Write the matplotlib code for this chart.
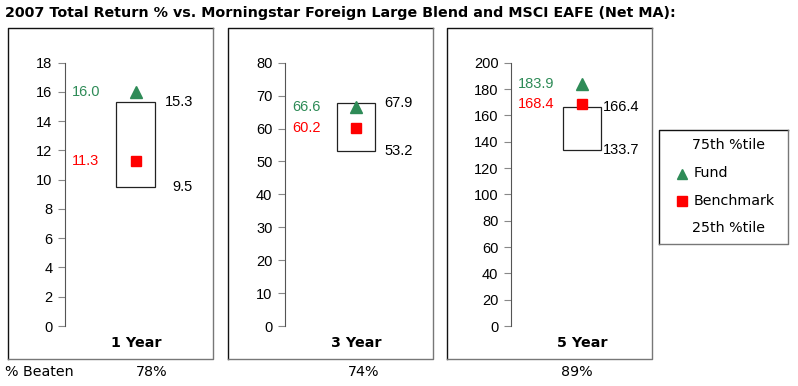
import matplotlib
matplotlib.use("Agg")
import matplotlib.pyplot as plt
from matplotlib.patches import Rectangle

# ---- data ----
periods = ["1 Year", "3 Year", "5 Year"]
fund = [16.0, 66.6, 183.9]
benchmark = [11.3, 60.2, 168.4]
pct75 = [15.3, 67.9, 166.4]
pct25 = [9.5, 53.2, 133.7]
beaten = ["78%", "74%", "89%"]
ymax = [18, 80, 200]
ystep = [2, 10, 20]
title = "2007 Total Return % vs. Morningstar Foreign Large Blend and MSCI EAFE (Net MA):"

GREEN = "#2e8b57"
RED = "#ff0000"

W, H = 798, 386
fig = plt.figure(figsize=(W / 100, H / 100), dpi=100)

# overlay in pixel coordinates
ov = fig.add_axes([0, 0, 1, 1])
ov.set_xlim(0, W)
ov.set_ylim(H, 0)
ov.axis("off")

ov.text(5, 13, title, fontsize=10.3, fontweight="bold", family="DejaVu Sans",
        va="center", ha="left")

panel_left = [8, 228, 447]
panel_w = 205
axis_x = [65, 285, 511]
beaten_x = [152, 364, 577]


def frame(x0, y0, w, h):
    ov.plot([x0, x0, x0 + w], [y0 + h, y0, y0], color="#111111", lw=1)
    ov.plot([x0 + w, x0 + w, x0], [y0, y0 + h, y0 + h], color="#777777", lw=1)


for i in range(3):
    frame(panel_left[i], 28, panel_w, 331)
    # per-panel axes
    ax = fig.add_axes([axis_x[i] / W, (H - 326) / H, 140 / W, 263.3 / H])
    ax.set_zorder(2)
    ax.patch.set_alpha(0)
    ax.set_xlim(0, 140)
    ax.set_ylim(0, ymax[i])
    for s in ["top", "right", "bottom"]:
        ax.spines[s].set_visible(False)
    ax.spines["left"].set_color("#555555")
    ax.set_xticks([])
    ax.set_yticks(range(0, ymax[i] + 1, ystep[i]))
    ax.tick_params(axis="y", length=5, width=0.8, color="#888888", pad=4,
                   labelsize=10.5)
    for lab in ax.get_yticklabels():
        lab.set_family("Liberation Sans")
    # box between 25th and 75th
    ax.add_patch(Rectangle((51.5, pct25[i]), 38.5, pct75[i] - pct25[i],
                           fill=False, edgecolor="#222222", lw=0.9))
    ax.plot([71], [fund[i]], marker="^", color=GREEN, ms=8, ls="none")
    ax.plot([71], [benchmark[i]], marker="s", color=RED, ms=7.5, ls="none")
    ax.text(7, fund[i], f"{fund[i]:.1f}", color=GREEN, fontsize=10.5,
            family="Liberation Sans", ha="left", va="center")
    ax.text(7, benchmark[i], f"{benchmark[i]:.1f}", color=RED, fontsize=10.5,
            family="Liberation Sans", ha="left", va="center")
    ax.text(128, pct75[i], f"{pct75[i]:.1f}", color="black", fontsize=10.5,
            family="Liberation Sans", ha="right", va="center")
    ax.text(128, pct25[i], f"{pct25[i]:.1f}", color="black", fontsize=10.5,
            family="Liberation Sans", ha="right", va="center")
    ax.text(71, -0.065 * ymax[i], periods[i], fontsize=10.3, fontweight="bold",
            family="DejaVu Sans", ha="center", va="center")
    ov.text(beaten_x[i], 372, beaten[i], fontsize=10.3, family="DejaVu Sans",
            ha="center", va="center")

ov.text(5, 372, "% Beaten", fontsize=10.3, family="DejaVu Sans",
        ha="left", va="center")

# legend
frame(659, 130, 129, 114)
ov.text(692, 145, "75th %tile", fontsize=10.3, family="DejaVu Sans", va="center")
ov.plot([682], [174], marker="^", color=GREEN, ms=7, ls="none")
ov.text(694, 173, "Fund", fontsize=10.3, family="DejaVu Sans", va="center")
ov.plot([682], [201], marker="s", color=RED, ms=7, ls="none")
ov.text(694, 201, "Benchmark", fontsize=10.3, family="DejaVu Sans", va="center")
ov.text(692, 228, "25th %tile", fontsize=10.3, family="DejaVu Sans", va="center")

fig.savefig("out.png", dpi=100)
